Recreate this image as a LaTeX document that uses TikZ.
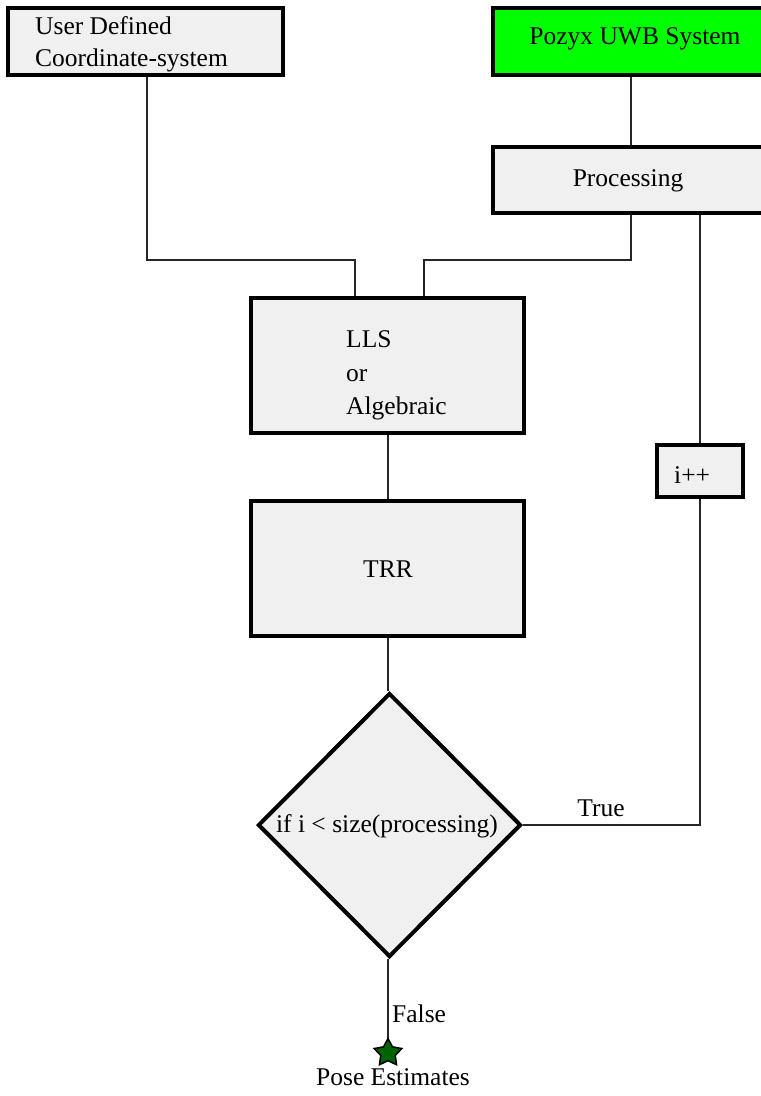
\documentclass[tikz,border=0pt]{standalone}
\usepackage{fontspec}
\setmainfont{Liberation Serif}
\usetikzlibrary{shapes.geometric}
\definecolor{boxfill}{HTML}{F0F0F0}
\definecolor{uwbgreen}{HTML}{00FF00}
\definecolor{stargreen}{HTML}{006400}
\begin{document}
\begin{tikzpicture}[x=1pt,y=-1pt,
  blk/.style={draw=black,line width=3.2pt,fill=boxfill,inner sep=0pt},
  wire/.style={draw=black!85,line width=1.3pt},
  lbl/.style={font=\fontsize{25.5}{33}\selectfont,inner sep=0pt},
  endmark/.style={star,star points=5,star point ratio=1.9,draw=black,line width=1.5pt,
    fill=stargreen,minimum size=29pt,inner sep=0pt}]
\useasboundingbox (0,0) rectangle (761,1096);

% boxes
\node[blk,minimum width=275pt,minimum height=67pt] (user) at (145.5,41.5) {};
\node[lbl,anchor=base west] at (35,34) {User Defined};
\node[lbl,anchor=base west] at (35,66) {Coordinate-system};

\node[blk,fill=uwbgreen,minimum width=270pt,minimum height=67pt] (pozyx) at (628,41.5) {};
\node[lbl,anchor=base] at (635,44) {Pozyx UWB System};

\node[blk,minimum width=270pt,minimum height=66pt] (proc) at (628,180) {};
\node[lbl,anchor=base] at (628,186) {Processing};

\node[blk,minimum width=273pt,minimum height=135pt] (lls) at (387.5,365.5) {};
\node[lbl,anchor=base west] at (346,347) {LLS};
\node[lbl,anchor=base west] at (346,381) {or};
\node[lbl,anchor=base west] at (346,414) {Algebraic};

\node[blk,minimum width=273pt,minimum height=135pt] (trr) at (387.5,568.5) {};
\node[lbl,anchor=base] at (388,577) {TRR};

\node[blk,minimum width=86pt,minimum height=52pt] (inc) at (700,471) {};
\node[lbl,anchor=base west] at (674,483) {i++};

\node[blk,diamond,line width=4pt,minimum width=263pt,minimum height=264pt] (cond) at (389.5,825) {};
\node[lbl,anchor=base] at (387,832) {if i < size(processing)};

% end marker
\coordinate (pose) at (388,1053);
\node[lbl,anchor=base] at (393,1085) {Pose Estimates};

% connectors
\draw[wire] (pozyx.south -| 631,0) -- (proc.north -| 631,0);
\draw[wire] (user.south -| 147,0) -- (147,260) -- (355,260) -- (lls.north -| 355,0);
\draw[wire] (proc.south -| 631,0) -- (631,260) -- (424,260) -- (lls.north -| 424,0);
\draw[wire] (proc.south -| 700,0) -- (inc.north);
\draw[wire] (lls.south -| 388,0) -- (trr.north -| 388,0);
\draw[wire] (trr.south -| 388,0) -- (cond.north -| 388,0);
\draw[wire] (inc.south) -- (700,825) -- (cond.east);
\node[lbl,anchor=base] at (601,816) {True};
\draw[wire] (cond.south -| 388,0) -- (pose);
\node[lbl,anchor=base west] at (392,1022) {False};
\node[endmark] (posemark) at (pose) {};
\end{tikzpicture}
\end{document}
